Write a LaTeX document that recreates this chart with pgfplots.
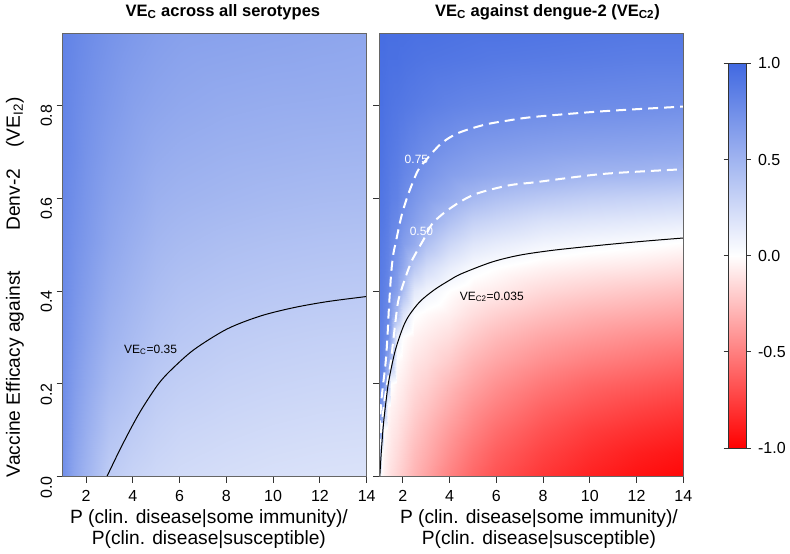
\documentclass[border=0pt]{standalone}
\usepackage{pgfplots}
\pgfplotsset{compat=1.18}
\usepackage{pgfplotstable}
\usepackage{fontspec}
\setmainfont{Liberation Sans}

% VE_C2 grid (right panel): x varies fastest, 16 columns x 18 rows
\pgfplotstableread{
x y z
1 0 0.05
1.1 0 -0.03
1.2 0 -0.06
1.35 0 -0.1
1.5 0 -0.13
1.75 0 -0.17
2 0 -0.21
2.5 0 -0.29
3 0 -0.36
4 0 -0.49
5 0 -0.6
6 0 -0.68
8 0 -0.79
10 0 -0.87
12 0 -0.93
14 0 -0.97
1 0.05 0.45
1.1 0.05 0.0
1.2 0.05 -0.04
1.35 0.05 -0.08
1.5 0.05 -0.1
1.75 0.05 -0.14
2 0.05 -0.18
2.5 0.05 -0.26
3 0.05 -0.32
4 0.05 -0.44
5 0.05 -0.55
6 0.05 -0.63
8 0.05 -0.74
10 0.05 -0.82
12 0.05 -0.88
14 0.05 -0.92
1 0.1 0.75
1.1 0.1 0.42
1.2 0.1 -0.01
1.35 0.1 -0.05
1.5 0.1 -0.08
1.75 0.1 -0.11
2 0.1 -0.15
2.5 0.1 -0.22
3 0.1 -0.28
4 0.1 -0.39
5 0.1 -0.49
6 0.1 -0.57
8 0.1 -0.68
10 0.1 -0.76
12 0.1 -0.81
14 0.1 -0.85
1 0.15 0.8
1.1 0.15 0.68
1.2 0.15 0.45
1.35 0.15 -0.02
1.5 0.15 -0.05
1.75 0.15 -0.08
2 0.15 -0.11
2.5 0.15 -0.18
3 0.15 -0.23
4 0.15 -0.33
5 0.15 -0.43
6 0.15 -0.5
8 0.15 -0.61
10 0.15 -0.68
12 0.15 -0.73
14 0.15 -0.77
1 0.2 0.83
1.1 0.2 0.78
1.2 0.2 0.7
1.35 0.2 0.4
1.5 0.2 0.0
1.75 0.2 -0.05
2 0.2 -0.08
2.5 0.2 -0.14
3 0.2 -0.18
4 0.2 -0.27
5 0.2 -0.36
6 0.2 -0.43
8 0.2 -0.53
10 0.2 -0.6
12 0.2 -0.64
14 0.2 -0.68
1 0.25 0.85
1.1 0.25 0.81
1.2 0.25 0.77
1.35 0.25 0.6
1.5 0.25 0.42
1.75 0.25 -0.01
2 0.25 -0.04
2.5 0.25 -0.1
3 0.25 -0.13
4 0.25 -0.2
5 0.25 -0.29
6 0.25 -0.35
8 0.25 -0.44
10 0.25 -0.5
12 0.25 -0.54
14 0.25 -0.58
1 0.3 0.86
1.1 0.3 0.83
1.2 0.3 0.8
1.35 0.3 0.75
1.5 0.3 0.56
1.75 0.3 0.1
2 0.3 0.0
2.5 0.3 -0.05
3 0.3 -0.08
4 0.3 -0.13
5 0.3 -0.21
6 0.3 -0.27
8 0.3 -0.35
10 0.3 -0.4
12 0.3 -0.44
14 0.3 -0.47
1 0.35 0.87
1.1 0.35 0.85
1.2 0.35 0.82
1.35 0.35 0.78
1.5 0.35 0.63
1.75 0.35 0.45
2 0.35 0.19
2.5 0.35 0.01
3 0.35 -0.02
4 0.35 -0.06
5 0.35 -0.13
6 0.35 -0.18
8 0.35 -0.25
10 0.35 -0.3
12 0.35 -0.33
14 0.35 -0.36
1 0.4 0.88
1.1 0.4 0.86
1.2 0.4 0.84
1.35 0.4 0.8
1.5 0.4 0.7
1.75 0.4 0.62
2 0.4 0.44
2.5 0.4 0.15
3 0.4 0.08
4 0.4 0.0
5 0.4 -0.05
6 0.4 -0.08
8 0.4 -0.15
10 0.4 -0.19
12 0.4 -0.22
14 0.4 -0.25
1 0.45 0.89
1.1 0.45 0.87
1.2 0.45 0.86
1.35 0.45 0.82
1.5 0.45 0.76
1.75 0.45 0.68
2 0.45 0.57
2.5 0.45 0.36
3 0.45 0.24
4 0.45 0.12
5 0.45 0.035
6 0.45 0.0
8 0.45 -0.05
10 0.45 -0.08
12 0.45 -0.1
14 0.45 -0.13
1 0.5 0.9
1.1 0.5 0.88
1.2 0.5 0.87
1.35 0.5 0.84
1.5 0.5 0.79
1.75 0.5 0.74
2 0.5 0.65
2.5 0.5 0.56
3 0.5 0.42
4 0.5 0.27
5 0.5 0.17
6 0.5 0.13
8 0.5 0.07
10 0.5 0.04
12 0.5 0.02
14 0.5 -0.01
1 0.55 0.91
1.1 0.55 0.9
1.2 0.55 0.89
1.35 0.55 0.86
1.5 0.55 0.82
1.75 0.55 0.79
2 0.55 0.72
2.5 0.55 0.64
3 0.55 0.56
4 0.55 0.42
5 0.55 0.31
6 0.55 0.27
8 0.55 0.2
10 0.55 0.17
12 0.55 0.15
14 0.55 0.13
1 0.6 0.92
1.1 0.6 0.91
1.2 0.6 0.9
1.35 0.6 0.88
1.5 0.6 0.85
1.75 0.6 0.83
2 0.6 0.77
2.5 0.6 0.7
3 0.6 0.64
4 0.6 0.56
5 0.6 0.47
6 0.6 0.42
8 0.6 0.36
10 0.6 0.32
12 0.6 0.3
14 0.6 0.28
1 0.65 0.93
1.1 0.65 0.92
1.2 0.65 0.91
1.35 0.65 0.89
1.5 0.65 0.87
1.75 0.65 0.85
2 0.65 0.81
2.5 0.65 0.76
3 0.65 0.71
4 0.65 0.64
5 0.65 0.6
6 0.65 0.57
8 0.65 0.53
10 0.65 0.49
12 0.65 0.48
14 0.65 0.46
1 0.7 0.94
1.1 0.7 0.93
1.2 0.7 0.92
1.35 0.7 0.9
1.5 0.7 0.89
1.75 0.7 0.87
2 0.7 0.84
2.5 0.7 0.8
3 0.7 0.76
4 0.7 0.71
5 0.7 0.67
6 0.7 0.65
8 0.7 0.62
10 0.7 0.6
12 0.7 0.59
14 0.7 0.58
1 0.8 0.95
1.1 0.8 0.95
1.2 0.8 0.94
1.35 0.8 0.93
1.5 0.8 0.92
1.75 0.8 0.91
2 0.8 0.9
2.5 0.8 0.88
3 0.8 0.86
4 0.8 0.83
5 0.8 0.81
6 0.8 0.8
8 0.8 0.78
10 0.8 0.77
12 0.8 0.76
14 0.8 0.75
1 0.9 0.96
1.1 0.9 0.96
1.2 0.9 0.96
1.35 0.9 0.95
1.5 0.9 0.95
1.75 0.9 0.95
2 0.9 0.94
2.5 0.9 0.93
3 0.9 0.92
4 0.9 0.91
5 0.9 0.9
6 0.9 0.89
8 0.9 0.88
10 0.9 0.87
12 0.9 0.86
14 0.9 0.86
1 0.955 0.97
1.1 0.955 0.97
1.2 0.955 0.97
1.35 0.955 0.96
1.5 0.955 0.96
1.75 0.955 0.96
2 0.955 0.96
2.5 0.955 0.95
3 0.955 0.95
4 0.955 0.94
5 0.955 0.93
6 0.955 0.93
8 0.955 0.92
10 0.955 0.91
12 0.955 0.9
14 0.955 0.9
}\rightdata

% VE_C grid (left panel): 11 columns x 10 rows
\pgfplotstableread{
x y z
1 0 0.74
1.5 0 0.6
2 0 0.5
3 0 0.34
4 0 0.29
5 0 0.26
6 0 0.24
8 0 0.22
10 0 0.205
12 0 0.195
14 0 0.19
1 0.1 0.75
1.5 0.1 0.63
2 0.1 0.54
3 0.1 0.4
4 0.1 0.345
5 0.1 0.305
6 0.1 0.28
8 0.1 0.26
10 0.1 0.245
12 0.1 0.235
14 0.1 0.23
1 0.2 0.76
1.5 0.2 0.66
2 0.2 0.58
3 0.2 0.46
4 0.2 0.4
5 0.2 0.35
6 0.2 0.325
8 0.2 0.3
10 0.2 0.285
12 0.2 0.275
14 0.2 0.27
1 0.3 0.77
1.5 0.3 0.69
2 0.3 0.62
3 0.3 0.51
4 0.3 0.45
5 0.3 0.4
6 0.3 0.37
8 0.3 0.34
10 0.3 0.325
12 0.3 0.315
14 0.3 0.31
1 0.4 0.78
1.5 0.4 0.71
2 0.4 0.65
3 0.4 0.55
4 0.4 0.49
5 0.4 0.44
6 0.4 0.41
8 0.4 0.385
10 0.4 0.37
12 0.4 0.36
14 0.4 0.355
1 0.5 0.79
1.5 0.5 0.73
2 0.5 0.68
3 0.5 0.59
4 0.5 0.53
5 0.5 0.48
6 0.5 0.455
8 0.5 0.43
10 0.5 0.415
12 0.5 0.405
14 0.5 0.4
1 0.6 0.8
1.5 0.6 0.75
2 0.6 0.7
3 0.6 0.62
4 0.6 0.57
5 0.6 0.52
6 0.6 0.5
8 0.6 0.48
10 0.6 0.465
12 0.6 0.455
14 0.6 0.45
1 0.7 0.81
1.5 0.7 0.77
2 0.7 0.72
3 0.7 0.65
4 0.7 0.6
5 0.7 0.56
6 0.7 0.54
8 0.7 0.52
10 0.7 0.51
12 0.7 0.5
14 0.7 0.495
1 0.8 0.82
1.5 0.8 0.78
2 0.8 0.74
3 0.8 0.68
4 0.8 0.63
5 0.8 0.6
6 0.8 0.58
8 0.8 0.56
10 0.8 0.55
12 0.8 0.545
14 0.8 0.54
1 0.955 0.83
1.5 0.955 0.8
2 0.955 0.77
3 0.955 0.72
4 0.955 0.68
5 0.955 0.65
6 0.955 0.63
8 0.955 0.62
10 0.955 0.61
12 0.955 0.6
14 0.955 0.59
}\leftdata

\pgfplotsset{
  panel/.style={
    scale only axis, width=228pt, height=332.6pt,
    anchor=south west,
    xmin=1, xmax=14, ymin=0, ymax=0.955,
    xtick={2,4,6,8,10,12,14}, ytick={0,0.2,0.4,0.6,0.8},
    xtick pos=bottom, ytick pos=left,
    tick align=outside, major tick length=4.5pt,
    axis line style={black!60, line width=0.6pt},
    tick style={black!80, line width=0.6pt},
    axis on top,
    colormap={rwb}{rgb255=(255,0,0) rgb255=(255,255,255) rgb255=(65,105,225)},
    point meta min=-1, point meta max=1,
    tick label style={font=\fontsize{12}{14}\selectfont},
    /pgf/number format/assume math mode=true,
    xticklabel style={yshift=-2pt},
    yticklabel style={rotate=90, anchor=south, xshift=-8pt,
      /pgf/number format/.cd, fixed, fixed zerofill, precision=1},
    xlabel style={align=center, anchor=north,
      font=\fontsize{14.4}{15.75}\selectfont},
    title style={anchor=base, font=\bfseries\fontsize{12.4}{14}\selectfont},
  }
}

\begin{document}
\begin{tikzpicture}
\path[use as bounding box] (0,0) rectangle (592.5pt,415.5pt);

% ---------------- left panel ----------------
\begin{axis}[panel, at={(47pt,58pt)},
  title={VE\textsubscript{C} across all serotypes},
  title style={at={([yshift=6.8pt]rel axis cs:0.527,1)}},
  xlabel={P (clin. disease|some immunity)/\\P(clin. disease|susceptible)},
  xlabel style={at={([yshift=-21pt]rel axis cs:0.481,0)}},
  ylabel={Vaccine Efficacy against\hspace{2.1em}Denv-2\hspace{1.1em}(VE\textsubscript{I2})},
  ylabel style={at={([xshift=-32pt]rel axis cs:0,0.427)}, anchor=base, rotate=0,
    font=\fontsize{14.4}{16}\selectfont},
]
\addplot[surf, shader=interp, mesh/cols=11, mesh/rows=10, point meta=\thisrow{z}]
  table[x=x, y=y] {\leftdata};
\addplot[black, line width=0.75pt, smooth] coordinates {
  (2.89,0) (3.3,0.043) (3.74,0.087) (4.2,0.13) (4.6,0.163) (5.1,0.2)
  (5.6,0.228) (6.6,0.273) (8.03,0.318) (9.46,0.346) (10.88,0.364)
  (12.32,0.377) (14,0.388)};
\node[anchor=base west, font=\fontsize{9}{10}\selectfont] at (axis cs:3.43,0.266)
  {VE\textsubscript{C}=0.35};
\end{axis}

% ---------------- right panel ----------------
\begin{axis}[panel, at={(284.5pt,58pt)},
  title={VE\textsubscript{C} against dengue-2 (VE\textsubscript{C2})},
  title style={at={([yshift=6.8pt]rel axis cs:0.553,1)}},
  xlabel={P (clin. disease|some immunity)/\\P(clin. disease|susceptible)},
  xlabel style={at={([yshift=-21pt]rel axis cs:0.525,0)}},
  yticklabels={},
  colorbar,
  colorbar style={
    at={(parent axis.south east)},
    anchor=south west,
    xshift=25.2pt, yshift=21.5pt,
    scale only axis, width=13.3pt, height=288.5pt,
    ytick={-1,-0.5,0,0.5,1},
    yticklabel pos=right,
    tick align=outside, major tick length=3.5pt,
    axis line style={black!80, line width=0.6pt},
    tick style={black!80, line width=0.6pt},
    yticklabel style={font=\fontsize{12}{14}\selectfont, xshift=2pt,
      rotate=0, anchor=west,
      /pgf/number format/.cd, fixed, fixed zerofill, precision=1, assume math mode=true},
  },
]
\addplot[surf, shader=interp, mesh/cols=16, mesh/rows=18, point meta=\thisrow{z}]
  table[x=x, y=y] {\rightdata};
% VE_C2 = 0.75 contour
\addplot[white, line width=1.5pt, dash pattern=on 7.5pt off 4.5pt, smooth] coordinates {
  (1.0,0.1) (1.1,0.17) (1.2,0.215) (1.27,0.246) (1.34,0.294) (1.41,0.363)
  (1.51,0.44) (1.6,0.48) (1.7,0.504) (1.94,0.56) (2.16,0.597) (2.37,0.626)
  (2.66,0.66) (3.08,0.687) (3.66,0.718) (4.37,0.74) (5.51,0.758) (6.51,0.767)
  (7.66,0.775) (10.58,0.787) (14,0.797)};
% VE_C2 = 0.50 contour
\addplot[white, line width=1.5pt, dash pattern=on 7.5pt off 4.5pt, smooth] coordinates {
  (1.0,0.06) (1.1,0.11) (1.2,0.155) (1.3,0.19) (1.42,0.225) (1.5,0.25)
  (1.56,0.277) (1.74,0.355) (1.84,0.385) (2.13,0.431) (2.41,0.467) (2.92,0.513)
  (3.3,0.547) (4.09,0.58) (5.08,0.608) (6.51,0.627) (7.66,0.634) (10.58,0.652)
  (14,0.662)};
% VE_C2 = 0.035 contour
\addplot[black, line width=0.75pt, smooth] coordinates {
  (1.02,0) (1.08,0.05) (1.17,0.11) (1.28,0.16) (1.41,0.208) (1.7,0.275)
  (2.13,0.335) (2.7,0.375) (3.34,0.402) (4.0,0.423) (4.51,0.437) (5.8,0.462)
  (7.0,0.477) (8.5,0.488) (10.58,0.499) (12.3,0.507) (14,0.514)};
\node[anchor=base west, font=\fontsize{9}{10}\selectfont] at (axis cs:4.24,0.38)
  {VE\textsubscript{C2}=0.035};
\node[anchor=base west, text=white, font=\fontsize{9}{10}\selectfont] at (axis cs:1.885,0.675) {0.75};
\node[anchor=base west, text=white, font=\fontsize{9}{10}\selectfont] at (axis cs:2.10,0.52) {0.50};
\end{axis}
\end{tikzpicture}
\end{document}
